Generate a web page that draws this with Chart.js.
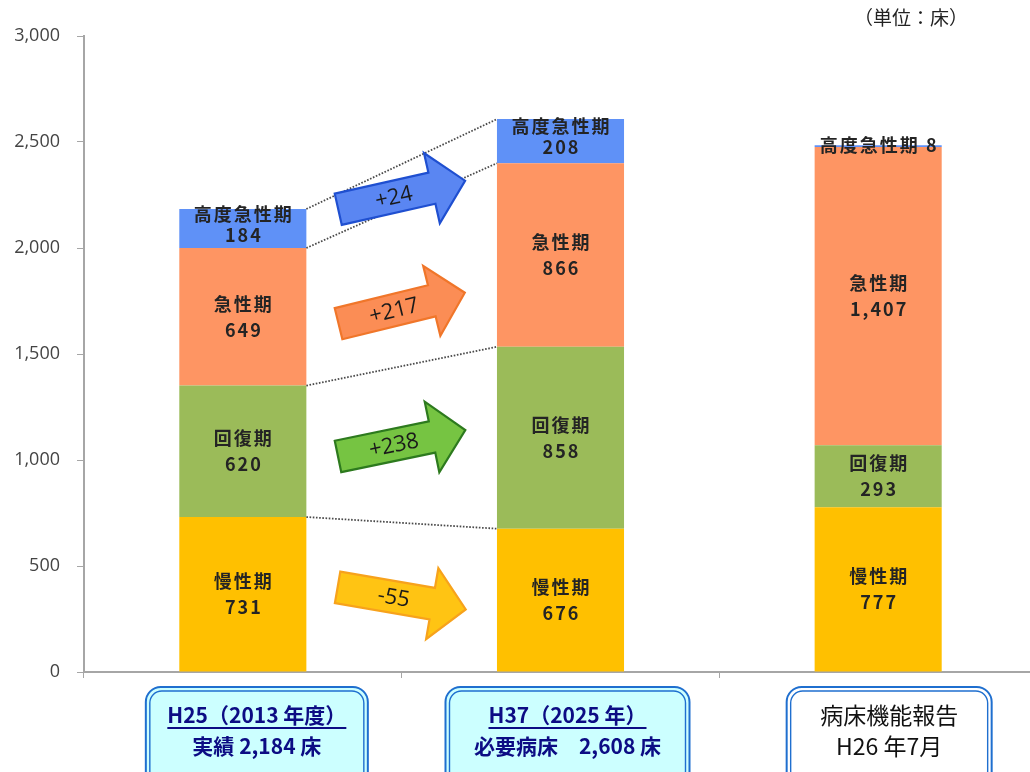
<!DOCTYPE html>
<html lang="ja">
<head>
<meta charset="utf-8">
<title>病床数の推移</title>
<script src="https://cdn.jsdelivr.net/npm/chart.js@4.4.1/dist/chart.umd.min.js"></script>
<style>
    html, body { margin: 0; padding: 0; background: #fff; overflow: hidden; }
    #wrap { width: 1040px; height: 772px; }
</style>
</head>
<body>
<div id="wrap"><canvas id="chart-camas" width="1040" height="772"></canvas></div>
<script>
// ========== DATOS ==========
const categorias = ['H25（2013 年度）', 'H37（2025 年）', '病床機能報告'];
const funciones = ['慢性期', '回復期', '急性期', '高度急性期'];
const cronico = [731, 676, 777];
const recuperacion = [620, 858, 293];
const agudo = [649, 866, 1407];
const agudoAlto = [184, 208, 8];
// altura (en camas) donde se dibuja cada flecha de diferencia
const nivelFlechas = [347, 1079, 1716, 2250];
const unidad = '（単位：床）';

const series = [cronico, recuperacion, agudo, agudoAlto];
const coloresBarra = ['#ffc000', '#9bbb59', '#fe9563', '#5f91f7'];
const coloresFlecha = [
    { relleno: '#ffc413', borde: '#f7a21c', angulo: 9.8 },
    { relleno: '#76c442', borde: '#2d7a1e', angulo: -11.7 },
    { relleno: '#fb8d55', borde: '#f0762a', angulo: -13.8 },
    { relleno: '#5a86f2', borde: '#1f4fd0', angulo: -12.7 }
];
const cajas = [
    { ancho: 222, dx: 14, fondo: '#ccffff', texto: '#0c0c84', negrita: true },
    { ancho: 244, dx: 7, fondo: '#ccffff', texto: '#0c0c84', negrita: true },
    { ancho: 205, dx: 11, fondo: '#ffffff', texto: '#111111', negrita: false }
];

const fmt = n => n.toLocaleString('en-US');
const totales = categorias.map((_, j) => series.reduce((s, arr) => s + arr[j], 0));
const segundaLinea = [
    '実績 ' + fmt(totales[0]) + ' 床',
    '必要病床　' + fmt(totales[1]) + ' 床',
    'H26 年7月'
];

const FUENTE = '"Noto Sans CJK JP", "Noto Sans", sans-serif';

// ========== FLECHA ==========
function dibujarFlecha(ctx, cx, cy, estilo, texto) {
    const L = 130, bh = 16, hh = 36, hl = 34;
    ctx.save();
    ctx.translate(cx, cy);
    ctx.rotate(estilo.angulo * Math.PI / 180);
    ctx.beginPath();
    ctx.moveTo(-L / 2, -bh);
    ctx.lineTo(L / 2 - hl, -bh);
    ctx.lineTo(L / 2 - hl, -hh);
    ctx.lineTo(L / 2, 0);
    ctx.lineTo(L / 2 - hl, hh);
    ctx.lineTo(L / 2 - hl, bh);
    ctx.lineTo(-L / 2, bh);
    ctx.closePath();
    ctx.fillStyle = estilo.relleno;
    ctx.fill();
    ctx.lineWidth = 2.2;
    ctx.lineJoin = 'miter';
    ctx.strokeStyle = estilo.borde;
    ctx.stroke();
    ctx.fillStyle = '#1a1a1a';
    ctx.font = '22px "Open Sans", sans-serif';
    ctx.textAlign = 'center';
    ctx.textBaseline = 'middle';
    ctx.fillText(texto, -8, 1);
    ctx.restore();
}

function cajaRedondeada(ctx, x, y, w, h, r) {
    ctx.beginPath();
    ctx.moveTo(x + r, y);
    ctx.lineTo(x + w - r, y);
    ctx.arcTo(x + w, y, x + w, y + r, r);
    ctx.lineTo(x + w, y + h - r);
    ctx.arcTo(x + w, y + h, x + w - r, y + h, r);
    ctx.lineTo(x + r, y + h);
    ctx.arcTo(x, y + h, x, y + h - r, r);
    ctx.lineTo(x, y + r);
    ctx.arcTo(x, y, x + r, y, r);
    ctx.closePath();
}

// ========== PLUGIN: etiquetas, conectores, flechas, cajas ==========
const pluginPanel = {
    id: 'panelCamas',
    afterDatasetsDraw(chart) {
        const ctx = chart.ctx;
        const escalaY = chart.scales.y;
        const metas = series.map((_, i) => chart.getDatasetMeta(i));

        // lineas punteadas entre la barra H25 y la H37
        ctx.save();
        ctx.strokeStyle = '#4a4a4a';
        ctx.lineWidth = 1.8;
        ctx.setLineDash([1.6, 1.6]);
        metas.forEach(m => {
            const a = m.data[0], b = m.data[1];
            ctx.beginPath();
            ctx.moveTo(a.x + a.width / 2, a.y);
            ctx.lineTo(b.x - b.width / 2, b.y);
            ctx.stroke();
        });
        ctx.restore();

        // nombre y valor dentro de cada tramo
        ctx.save();
        ctx.fillStyle = '#242424';
        ctx.textAlign = 'center';
        ctx.textBaseline = 'middle';
        ctx.font = 'bold 18px ' + FUENTE;
        ctx.letterSpacing = '2px';
        metas.forEach((m, i) => {
            m.data.forEach((el, j) => {
                const h = el.base - el.y;
                const valor = series[i][j];
                if (h < 12) {
                    ctx.fillText(funciones[i] + ' ' + fmt(valor), el.x + 1, el.y);
                    return;
                }
                const paso = h < 50 ? 21 : 26;
                const medio = (el.y + el.base) / 2 - (h < 50 ? 4 : 0);
                ctx.fillText(funciones[i], el.x + 1, medio - paso / 2);
                ctx.fillText(fmt(valor), el.x + 1, medio + paso / 2);
            });
        });
        ctx.restore();

        // flechas con la diferencia H37 - H25
        const a = metas[0].data[0], b = metas[0].data[1];
        const cx = ((a.x + a.width / 2) + (b.x - b.width / 2)) / 2;
        series.forEach((s, i) => {
            const diff = s[1] - s[0];
            const txt = (diff > 0 ? '+' : '') + diff;
            dibujarFlecha(ctx, cx, escalaY.getPixelForValue(nivelFlechas[i]), coloresFlecha[i], txt);
        });
    },
    afterDraw(chart) {
        const ctx = chart.ctx;
        const escalaX = chart.scales.x;
        const top = chart.chartArea.bottom + 15;

        categorias.forEach((cat, j) => {
            const c = cajas[j];
            const cx = escalaX.getPixelForValue(j) + c.dx;
            const x = cx - c.ancho / 2;
            ctx.save();
            cajaRedondeada(ctx, x, top, c.ancho, 100, 15);
            ctx.fillStyle = c.fondo;
            ctx.fill();
            ctx.lineWidth = 2;
            ctx.strokeStyle = '#1f6fcf';
            ctx.stroke();
            cajaRedondeada(ctx, x + 4, top + 4, c.ancho - 8, 92, 12);
            ctx.lineWidth = 1.4;
            ctx.stroke();

            ctx.fillStyle = c.texto;
            ctx.textAlign = 'center';
            ctx.textBaseline = 'middle';
            ctx.font = (c.negrita ? 'bold 21px ' : '23px ') + FUENTE;
            ctx.fillText(cat, cx, top + 28);
            if (c.negrita) {
                const w = ctx.measureText(cat).width;
                ctx.fillRect(cx - w / 2, top + 40, w, 2);
            }
            ctx.fillText(segundaLinea[j], cx, top + 59);
            ctx.restore();
        });

        // unidad
        ctx.save();
        ctx.fillStyle = '#222';
        ctx.font = '19px ' + FUENTE;
        ctx.textAlign = 'right';
        ctx.textBaseline = 'middle';
        ctx.fillText(unidad, 968, 18);
        ctx.restore();
    }
};

// ========== GRAFICO ==========
const ctx = document.getElementById('chart-camas').getContext('2d');
new Chart(ctx, {
    type: 'bar',
    data: {
        labels: categorias,
        datasets: funciones.map((f, i) => ({
            label: f,
            data: series[i],
            backgroundColor: coloresBarra[i],
            borderWidth: 0,
            barPercentage: 0.4,
            categoryPercentage: 1
        }))
    },
    options: {
        responsive: false,
        animation: false,
        layout: { padding: { top: 36, right: 3, left: 0, bottom: 0 } },
        plugins: { legend: { display: false }, tooltip: { enabled: false } },
        scales: {
            x: {
                stacked: true,
                ticks: { display: false },
                grid: { drawOnChartArea: false, drawTicks: true, tickLength: 6, color: '#a6a6a6' },
                border: { color: '#a6a6a6', width: 2 },
                afterFit: s => { s.height = 100; }
            },
            y: {
                stacked: true,
                min: 0,
                max: 3000,
                ticks: {
                    stepSize: 500,
                    padding: 17,
                    color: '#444',
                    font: { family: '"Open Sans", sans-serif', size: 18 },
                    callback: v => fmt(v)
                },
                grid: { drawOnChartArea: false, drawTicks: true, tickLength: 7, color: '#a6a6a6' },
                border: { color: '#a6a6a6', width: 2 },
                afterFit: s => { s.width = 84; }
            }
        }
    },
    plugins: [pluginPanel]
});
</script>
</body>
</html>
